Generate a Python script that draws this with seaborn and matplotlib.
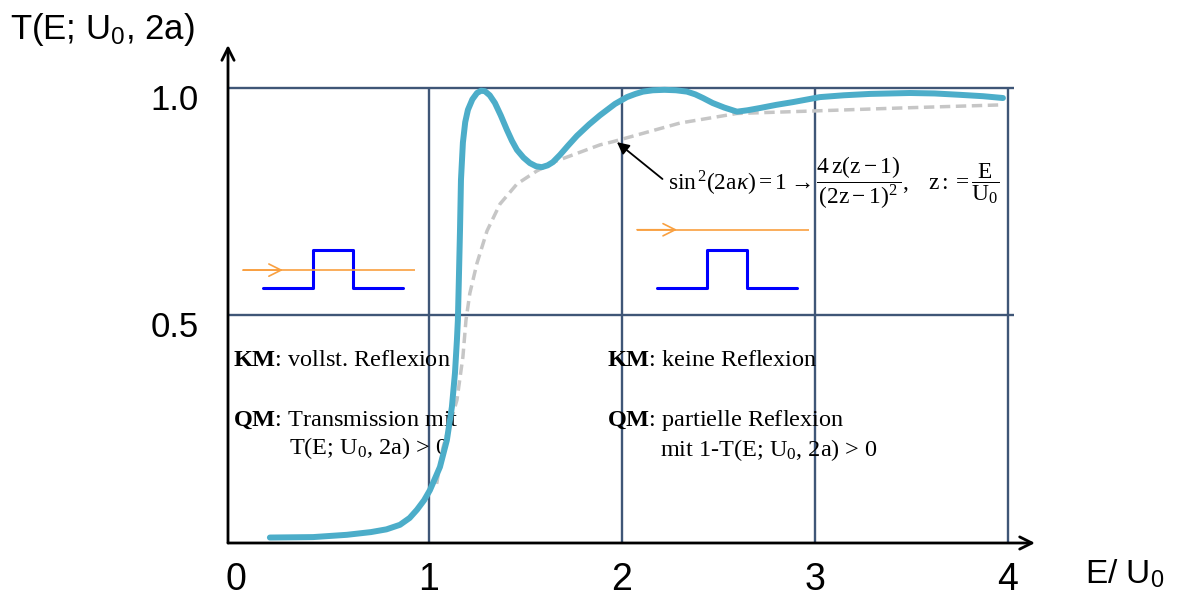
import matplotlib
matplotlib.use("Agg")
import matplotlib.pyplot as plt
import matplotlib.transforms as mtransforms
import seaborn as sns
import pandas as pd

# transmission T(E; U0, 2a) (x = E/U0)
energy_qm = [0.176, 0.400, 0.575, 0.700, 0.780, 0.850, 0.900, 0.938, 0.975, 1.005,
             1.057, 1.093, 1.119, 1.135, 1.145, 1.150, 1.155, 1.161, 1.166, 1.176,
             1.188, 1.202, 1.225, 1.249, 1.270, 1.290, 1.315, 1.342, 1.372, 1.404,
             1.430, 1.456, 1.490, 1.523, 1.555, 1.585, 1.615, 1.642, 1.679, 1.720,
             1.767, 1.830, 1.886, 1.964, 2.026, 2.070, 2.109, 2.160, 2.220, 2.280,
             2.337, 2.380, 2.420, 2.470, 2.530, 2.596, 2.650, 2.715, 2.800, 2.886,
             3.026, 3.150, 3.285, 3.492, 3.620, 3.751, 3.870, 3.974]
trans_qm = [0.012, 0.013, 0.018, 0.024, 0.030, 0.040, 0.055, 0.073, 0.094, 0.116,
            0.167, 0.226, 0.299, 0.374, 0.446, 0.490, 0.578, 0.688, 0.798, 0.880,
            0.925, 0.952, 0.975, 0.989, 0.994, 0.993, 0.984, 0.967, 0.940, 0.908,
            0.884, 0.864, 0.847, 0.835, 0.828, 0.826, 0.830, 0.837, 0.853, 0.873,
            0.895, 0.920, 0.940, 0.965, 0.980, 0.987, 0.992, 0.995, 0.996, 0.995,
            0.992, 0.986, 0.978, 0.967, 0.957, 0.948, 0.951, 0.956, 0.963, 0.969,
            0.980, 0.984, 0.987, 0.989, 0.988, 0.985, 0.982, 0.978]

# envelope for sin^2(2a kappa) = 1 (dashed grey)
energy_env = [1.040, 1.073, 1.145, 1.176, 1.192, 1.212, 1.249, 1.301, 1.368, 1.456,
              1.560, 1.663, 1.886, 1.953, 2.301, 2.596, 3.026, 3.440, 3.974]
trans_env = [0.130, 0.210, 0.314, 0.409, 0.490, 0.549, 0.615, 0.686, 0.745, 0.789,
             0.818, 0.840, 0.875, 0.882, 0.923, 0.944, 0.950, 0.956, 0.963]

x_ticks = [0, 1, 2, 3, 4]
x_tick_labels = ["0", "1", "2", "3", "4"]
y_ticks = [0.5, 1.0]
y_tick_labels = ["0.5", "1.0"]
grid_x = [1, 2, 3, 4]
grid_y = [0.5, 1.0]

# little barrier sketches: potential profile and particle energy (units of U0)
barrier_pos = [0, 5, 5, 9, 9, 14]
barrier_pot = [0, 0, 1, 1, 0, 0]
particle_energy = [0.47, 1.53]

sns.set_theme(style="white")
plt.rcParams["font.family"] = ["Liberation Sans", "DejaVu Sans"]
plt.rcParams["text.color"] = "black"
plt.rcParams["xtick.color"] = "black"
plt.rcParams["ytick.color"] = "black"
plt.rcParams["mathtext.fontset"] = "custom"
plt.rcParams["mathtext.rm"] = "Liberation Serif"
plt.rcParams["mathtext.it"] = "Liberation Serif:italic"
plt.rcParams["mathtext.bf"] = "Liberation Serif:bold"
plt.rcParams["mathtext.sf"] = "Liberation Sans"

W, H = 1179, 598
fig = plt.figure(figsize=(W / 100, H / 100), dpi=100)
ax = fig.add_axes([228 / W, (H - 543) / H, (1035 - 228) / W, (543 - 45) / H])
ax.set_xlim(-0.041, 4.14)
ax.set_ylim(0, 1.0945)
for s in ax.spines.values():
    s.set_visible(False)

# grid box
grid_col = "#3f5677"
ax.vlines(grid_x, 0, 1.0, color=grid_col, lw=1.7, zorder=1)
ax.hlines(grid_y, -0.041, 4.03, color=grid_col, lw=1.7, zorder=1)

# axes with arrow heads
ax.annotate("", xy=(1, 0), xytext=(0, 0), xycoords="axes fraction",
            arrowprops=dict(arrowstyle="->", lw=2, color="black",
                            shrinkA=0, shrinkB=0, mutation_scale=22), zorder=6)
ax.annotate("", xy=(0, 1), xytext=(0, 0), xycoords="axes fraction",
            arrowprops=dict(arrowstyle="->", lw=2, color="black",
                            shrinkA=0, shrinkB=0, mutation_scale=22), zorder=6)

df_qm = pd.DataFrame({"E": energy_qm, "T": trans_qm})
df_env = pd.DataFrame({"E": energy_env, "T": trans_env})
sns.lineplot(data=df_env, x="E", y="T", ax=ax, color="#c6c6c6", linewidth=2.5,
             linestyle=(0, (3, 1.6)), zorder=3)
sns.lineplot(data=df_qm, x="E", y="T", ax=ax, color="#4cadc9", linewidth=4.3,
             zorder=4)
for ln in ax.get_lines():
    ln.set_solid_joinstyle("round")
    ln.set_dash_joinstyle("round")
ax.set_xlabel("")
ax.set_ylabel("")

ax.set_xticks(x_ticks)
ax.set_xticklabels(x_tick_labels, fontsize=27)
ax.set_yticks(y_ticks)
ax.set_yticklabels(y_tick_labels, fontsize=25)
ax.tick_params(axis="x", length=0, pad=14)
ax.tick_params(axis="y", length=0, pad=21)
for lab in ax.get_yticklabels():
    lab.set_transform(lab.get_transform() +
                      mtransforms.ScaledTranslation(0, -0.09, fig.dpi_scale_trans))

# axis titles
fig.text(10 / W, 1 - 30 / H, r"T(E; U$_\mathsf{0}$, 2a)", fontsize=25, va="center",
         ha="left")
fig.text(1085 / W, 1 - 574 / H, r"E/ U$_\mathsf{0}$", fontsize=24, va="center",
         ha="left")

# explanatory texts
serif = "Liberation Serif"
fs = 17.5
ax.text(-0.016, 0.402, r"$\mathbf{KM}$: vollst. Reflexion", family=serif, fontsize=fs, va="center")
ax.text(-0.016, 0.270, r"$\mathbf{QM}$: Transmission mit", family=serif, fontsize=fs, va="center")
ax.text(0.275, 0.209, r"T(E; U$_\mathrm{0}$, 2a) > 0", family=serif, fontsize=fs, va="center")
ax.text(1.922, 0.402, r"$\mathbf{KM}$: keine Reflexion", family=serif, fontsize=fs, va="center")
ax.text(1.922, 0.270, r"$\mathbf{QM}$: partielle Reflexion", family=serif, fontsize=fs, va="center")
ax.text(2.197, 0.204, r"mit 1-T(E; U$_\mathrm{0}$, 2a) > 0", family=serif, fontsize=fs, va="center")

formula = (r"$\mathrm{sin}^{\,2}(2\mathrm{a}\kappa) = 1 \rightarrow "
           r"\dfrac{4\,\mathrm{z(z-1)}}{\mathrm{(2z-1)}^2},\ \ \ \mathrm{z} := "
           r"\dfrac{\mathrm{E}}{\mathrm{U}_\mathrm{0}}$")
ax.text(2.238, 0.791, formula, fontsize=16.8, va="center", ha="left")
ax.annotate("", xy=(1.974, 0.881), xytext=(2.21, 0.80),
            arrowprops=dict(arrowstyle="-|>", color="black", lw=1.3,
                            mutation_scale=18, shrinkA=0, shrinkB=0), zorder=6)

# barrier sketches
for x0, e in zip([0.036, 2.078], particle_energy):
    ins = ax.inset_axes([x0, 0.534, 0.893, 0.198], transform=ax.transData)
    ins.plot(barrier_pos, barrier_pot, color="#0000ff", lw=2.2)
    ins.plot([-2, 15.2], [e, e], color="#f9a040", lw=1.2)
    ins.annotate("", xy=(2, e), xytext=(-2, e),
                 arrowprops=dict(arrowstyle="->", color="#f9a040", lw=1.2,
                                 mutation_scale=22, shrinkA=0, shrinkB=0))
    ins.set_xlim(-2, 15.2)
    ins.set_ylim(-0.316, 2.05)
    ins.axis("off")
    ins.patch.set_alpha(0)

fig.savefig("out.png", dpi=100)
